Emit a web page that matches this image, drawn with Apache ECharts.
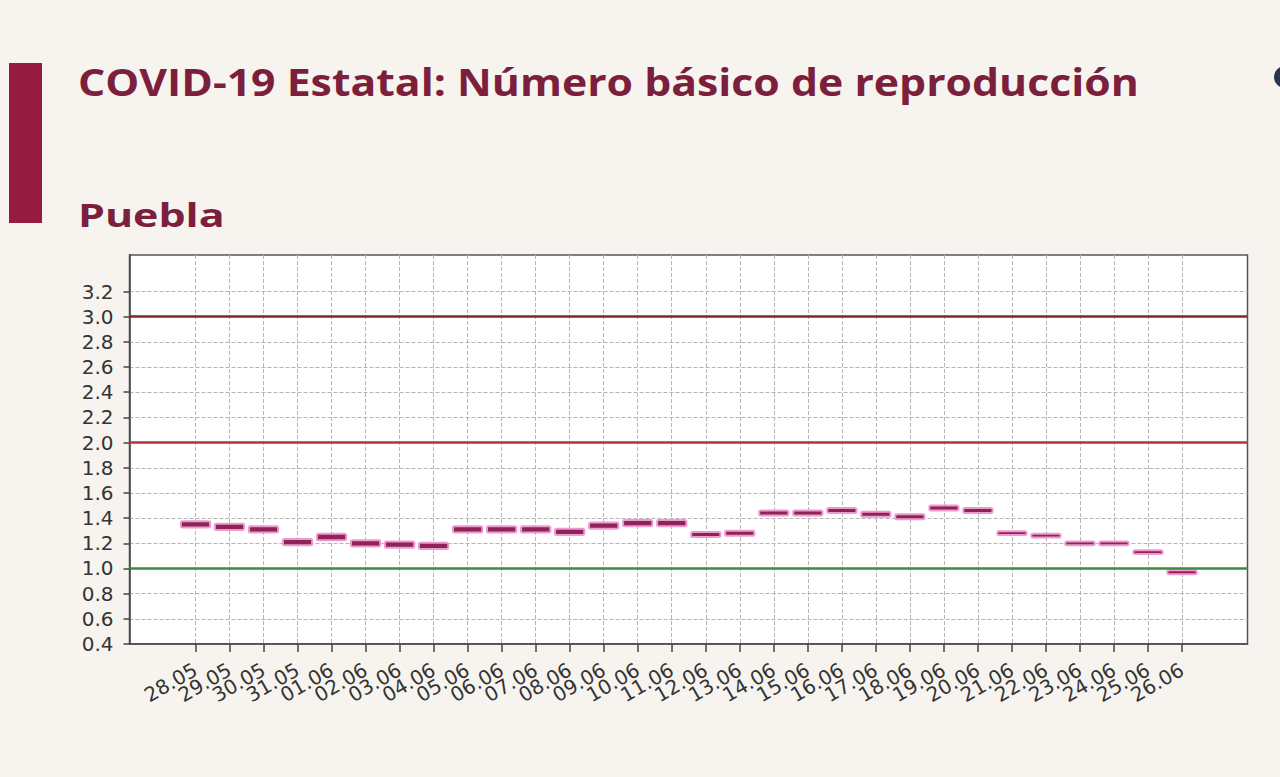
<!DOCTYPE html>
<html><head><meta charset="utf-8">
<script src="https://cdn.jsdelivr.net/npm/echarts@6/dist/echarts.min.js"></script>
<style>html,body{margin:0;padding:0;background:#f7f4ef;} #c{width:1280px;height:777px;}</style>
</head><body><div id="c"></div>
<script>
const dates = ['28.05','29.05','30.05','31.05','01.06','02.06','03.06','04.06','05.06','06.06',
  '07.06','08.06','09.06','10.06','11.06','12.06','13.06','14.06','15.06','16.06',
  '17.06','18.06','19.06','20.06','21.06','22.06','23.06','24.06','25.06','26.06'];
const rLow  = [1.325,1.305,1.285,1.185,1.225,1.175,1.165,1.155,1.285,1.285,
  1.285,1.265,1.315,1.335,1.335,1.25,1.26,1.42,1.42,1.44,
  1.41,1.39,1.46,1.44,1.265,1.245,1.185,1.185,1.115,0.955];
const rHigh = [1.375,1.355,1.335,1.235,1.275,1.225,1.215,1.205,1.335,1.335,
  1.335,1.315,1.365,1.385,1.385,1.29,1.30,1.46,1.46,1.48,
  1.45,1.43,1.50,1.48,1.295,1.275,1.215,1.215,1.145,0.985];
const yTicks = [0.4,0.6,0.8,1.0,1.2,1.4,1.6,1.8,2.0,2.2,2.4,2.6,2.8,3.0,3.2];
const thresholds = [1.0, 2.0, 3.0];
const titleText = 'COVID-19 Estatal: Número básico de reproducción';
const subtitleText = 'Puebla';

const thresholdColor = {1: '#3d8c3d', 2: '#b3343a', 3: '#7d2630'};
const idx = dates.map((d, i) => i);

// main plot geometry
const gLeft = 129.5, gRight = 32.5, gTop = 255, gBottom = 133;
const xMin = -1.94, xMax = 30.925;
const plotW = 1280 - gLeft - gRight;
const slot = plotW / (xMax - xMin);
// label grid aligned so that category centres coincide with value-axis ticks
const lLeft = gLeft + (0 - xMin - 0.5) * slot;
const lWidth = dates.length * slot;

const chart = echarts.init(document.getElementById('c'), null, {renderer: 'svg'});
chart.setOption({
  backgroundColor: '#f7f4ef',
  animation: false,
  graphic: [
    {type: 'rect', shape: {x: 9, y: 63, width: 33, height: 160}, style: {fill: '#951c40'}},
    {type: 'text', x: 78, y: 82, scaleX: 1.156,
      style: {text: titleText, x: 0, y: 0, fontSize: 37, fontWeight: 'bold',
      fontFamily: 'Open Sans', fill: '#7b1f3d', verticalAlign: 'middle'}},
    {type: 'text', x: 78, y: 214, scaleX: 1.3,
      style: {text: subtitleText, x: 0, y: 0, fontSize: 33, fontWeight: 'bold',
      fontFamily: 'Open Sans', fill: '#7b1f3d', verticalAlign: 'middle'}},
    {type: 'circle', shape: {cx: 1285, cy: 77, r: 11}, style: {fill: '#2a3552'}},
    {type: 'circle', shape: {cx: 1285, cy: 77, r: 5}, style: {fill: '#f7f4ef'}}
  ],
  grid: [
    {left: gLeft, top: gTop, right: gRight, bottom: gBottom, show: true,
      backgroundColor: '#ffffff', borderColor: '#555', borderWidth: 1.5, containLabel: false},
    {left: lLeft, top: gTop, width: lWidth, bottom: gBottom, show: false, containLabel: false}
  ],
  xAxis: [{
    type: 'value', min: xMin, max: xMax, gridIndex: 0,
    axisLine: {show: true, onZero: false, lineStyle: {color: '#444', width: 1.5}},
    axisTick: {show: true, customValues: idx, length: 8, lineStyle: {color: '#444', width: 1.5}},
    axisLabel: {show: false},
    splitLine: {show: true, lineStyle: {color: '#b5b5b5', type: 'dashed', width: 1}}
  }, {
    type: 'category', data: dates, gridIndex: 1, boundaryGap: true,
    axisLine: {show: false}, axisTick: {show: false}, splitLine: {show: false},
    axisLabel: {show: true, interval: 0, rotate: 30, fontSize: 20, fontFamily: 'DejaVu Sans',
      color: '#333', margin: 24, hideOverlap: false}
  }],
  yAxis: [{
    type: 'value', min: 0.4, max: 3.49, gridIndex: 0,
    axisLine: {show: true, onZero: false, lineStyle: {color: '#444', width: 1.5}},
    axisTick: {show: true, customValues: yTicks, length: 6, lineStyle: {color: '#444', width: 1.5}},
    axisLabel: {show: true, customValues: yTicks, formatter: v => v.toFixed(1),
      showMinLabel: true, showMaxLabel: true,
      fontSize: 20, fontFamily: 'DejaVu Sans', color: '#333', margin: 16},
    splitLine: {show: true, lineStyle: {color: '#b5b5b5', type: 'dashed', width: 1}}
  }, {
    type: 'value', gridIndex: 1, show: false, min: 0, max: 1
  }],
  series: [{
    type: 'custom',
    xAxisIndex: 0, yAxisIndex: 0,
    data: dates.map((d, i) => [i, rLow[i], rHigh[i]]),
    encode: {x: 0, y: [1, 2]},
    renderItem: function (params, api) {
      const x = api.value(0), lo = api.value(1), hi = api.value(2);
      const p1 = api.coord([x - 0.43, hi]);
      const p2 = api.coord([x + 0.43, lo]);
      return {type: 'rect', z2: 10,
        shape: {x: p1[0], y: p1[1], width: p2[0] - p1[0], height: p2[1] - p1[1], r: 1.5},
        style: {fill: '#8e2456', stroke: '#ee9ad0', lineWidth: 2}};
    },
    markLine: {
      silent: true, symbol: 'none', label: {show: false},
      data: thresholds.map(v => ({yAxis: v, lineStyle: {color: thresholdColor[v], width: 2.5, type: 'solid'}}))
    },
    z: 3
  }]
});
</script></body></html>
